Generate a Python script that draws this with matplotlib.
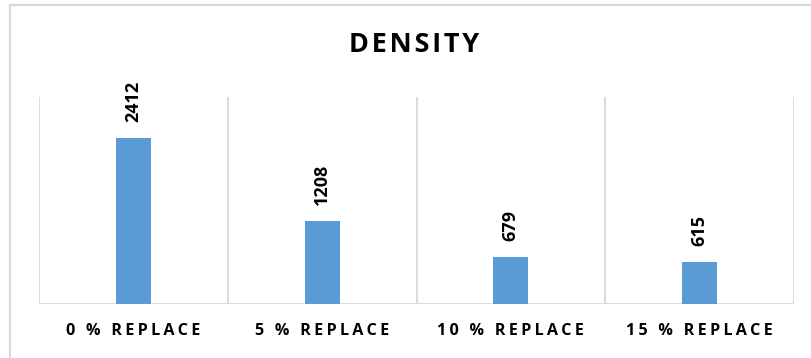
import matplotlib
matplotlib.use("Agg")
import matplotlib.pyplot as plt
from matplotlib.patches import Rectangle

categories = ["0 % REPLACE", "5 % REPLACE", "10 % REPLACE", "15 % REPLACE"]
values = [2412, 1208, 679, 615]
title = "DENSITY"

BAR = "#5B9BD5"
GRID = "#D9D9D9"
FAM = ["Open Sans", "DejaVu Sans"]


def spaced(s, sp):
    return sp.join(list(s))


fig = plt.figure(figsize=(8.11, 3.58), dpi=100)
W, H = 811, 358
ax = fig.add_axes([39 / W, 54 / H, (794 - 39) / W, (304 - 97) / H])

x = list(range(len(categories)))
bars = ax.bar(x, values, width=0.185, color=BAR, zorder=3)
ax.set_xlim(-0.5, len(categories) - 0.5)
ax.set_ylim(0, 3000)

for b in [i - 0.5 for i in range(len(categories) + 1)]:
    ax.axvline(b, color=GRID, lw=1.3, zorder=1)
for s in ax.spines.values():
    s.set_visible(False)
ax.axhline(0, color=GRID, lw=1.3, zorder=2)
ax.set_yticks([])
ax.set_xticks(x)
ax.set_xticklabels([spaced(c, "\u2009") for c in categories], family=FAM,
                   fontweight="bold", fontsize=11.6)
ax.tick_params(axis="x", length=0, pad=14)

for xi, v in zip(x, values):
    ax.annotate(str(v), (xi, v), xytext=(0, 11.5), textcoords="offset points",
                rotation=90, ha="center", va="bottom", family=FAM,
                fontweight="bold", fontsize=13)

fig.text(414 / W, 1 - 45.5 / H, spaced(title, "\u200A"), ha="center",
         va="center", family=FAM, fontweight="bold", fontsize=19.5)

fig.patches.append(Rectangle((9.5 / W, -0.1), 1.2, 1 - 4.5 / H + 0.1,
                             transform=fig.transFigure, fill=False,
                             edgecolor=GRID, lw=1.6))

fig.savefig("out.png", dpi=100)
